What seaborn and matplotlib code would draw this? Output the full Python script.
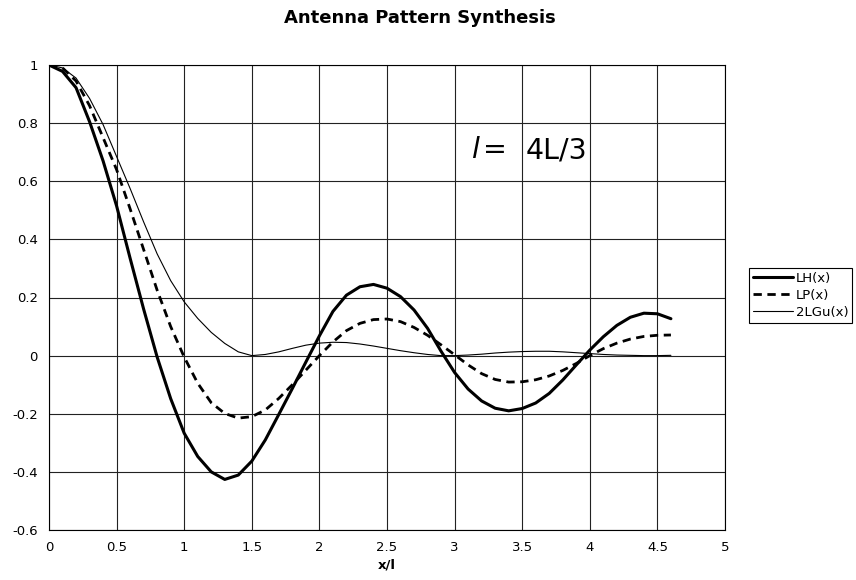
import matplotlib
matplotlib.use("Agg")
import matplotlib.pyplot as plt
import seaborn as sns
import numpy as np

# values, step 0.1 from 0 to 4.6
x = [0.0, 0.1, 0.2, 0.3, 0.4, 0.5, 0.6, 0.7, 0.8, 0.9,
     1.0, 1.1, 1.2, 1.3, 1.4, 1.5, 1.6, 1.7, 1.8, 1.9,
     2.0, 2.1, 2.2, 2.3, 2.4, 2.5, 2.6, 2.7, 2.8, 2.9,
     3.0, 3.1, 3.2, 3.3, 3.4, 3.5, 3.6, 3.7, 3.8, 3.9,
     4.0, 4.1, 4.2, 4.3, 4.4, 4.5, 4.6]

lh = [1.0, 0.978, 0.922, 0.805, 0.67, 0.515, 0.335, 0.16, -0.005, -0.148,
      -0.267, -0.347, -0.40, -0.426, -0.411, -0.363, -0.29, -0.202, -0.113, -0.022,
      0.068, 0.152, 0.208, 0.237, 0.245, 0.232, 0.203, 0.157, 0.094, 0.015,
      -0.058, -0.115, -0.156, -0.181, -0.19, -0.182, -0.163, -0.13, -0.084, -0.032,
      0.019, 0.065, 0.104, 0.132, 0.146, 0.144, 0.127]

lp = [1.0, 0.99, 0.945, 0.86, 0.75, 0.64, 0.505, 0.365, 0.225, 0.10,
      -0.005, -0.095, -0.162, -0.199, -0.215, -0.21, -0.187, -0.147, -0.10, -0.05,
      0.0, 0.047, 0.086, 0.111, 0.124, 0.126, 0.117, 0.097, 0.07, 0.037,
      0.003, -0.032, -0.062, -0.082, -0.091, -0.09, -0.083, -0.07, -0.051, -0.027,
      0.0, 0.024, 0.043, 0.057, 0.066, 0.07, 0.071]

lgu = [1.0, 0.99, 0.955, 0.885, 0.795, 0.685, 0.575, 0.46, 0.35, 0.258,
       0.185, 0.128, 0.08, 0.042, 0.013, 0.0, 0.004, 0.013, 0.025, 0.036,
       0.043, 0.046, 0.045, 0.04, 0.033, 0.025, 0.017, 0.01, 0.004, 0.0,
       0.0, 0.002, 0.005, 0.009, 0.012, 0.014, 0.015, 0.015, 0.013, 0.01,
       0.007, 0.004, 0.002, 0.001, 0.0, 0.0, 0.001]

xticks = [0, 0.5, 1, 1.5, 2, 2.5, 3, 3.5, 4, 4.5, 5]
xtick_labels = ["0", "0.5", "1", "1.5", "2", "2.5", "3", "3.5", "4", "4.5", "5"]
yticks = [-0.6, -0.4, -0.2, 0, 0.2, 0.4, 0.6, 0.8, 1]
ytick_labels = ["-0.6", "-0.4", "-0.2", "0", "0.2", "0.4", "0.6", "0.8", "1"]

sns.set_theme(style="white")
plt.rcParams["font.family"] = ["DejaVu Sans"]
plt.rcParams["text.color"] = "black"

fig = plt.figure(figsize=(8.56, 5.8), dpi=100)
ax = fig.add_axes([49 / 856, 1 - 530 / 580, 676 / 856, 465 / 580])

sns.lineplot(x=x, y=lh, ax=ax, color="black", linewidth=2.2, label="LH(x)")
sns.lineplot(x=x, y=lp, ax=ax, color="black", linewidth=2.0,
             linestyle=(0, (3, 2)), label="LP(x)")
sns.lineplot(x=x, y=lgu, ax=ax, color="black", linewidth=0.8, label="2LGu(x)")

ax.set_xlim(0, 5)
ax.set_ylim(-0.6, 1)
ax.set_xticks(xticks)
ax.set_xticklabels(xtick_labels)
ax.set_yticks(yticks)
ax.set_yticklabels(ytick_labels)
ax.tick_params(axis="both", direction="out", length=4, width=0.8,
               color="black", labelsize=9.5, labelcolor="black", pad=4)
ax.grid(True, color="#222222", linewidth=0.8)
for sp in ax.spines.values():
    sp.set_color("black")
    sp.set_linewidth(0.8)

ax.set_xlabel("x/l", fontsize=9.5, fontweight="bold", labelpad=3, color="black")
fig.text(0.49, 1 - 18 / 580, "Antenna Pattern Synthesis", ha="center",
         va="center", fontsize=13, fontweight="bold", color="black")

# annotation "l=  4L/3"
ax.text(3.13, 0.707, "l", fontsize=20.5, fontstyle="italic", va="center")
ax.text(3.21, 0.707, "=", fontsize=20.5, va="center")
ax.text(3.525, 0.707, "4L/3", fontsize=20.5, va="center")

leg = ax.legend(loc="upper left", bbox_to_anchor=(749 / 856, 1 - 268 / 580),
                bbox_transform=fig.transFigure, borderaxespad=0,
                fancybox=False, edgecolor="black", framealpha=1,
                fontsize=9.5, handlelength=3.0, handletextpad=0.25,
                labelspacing=0.3, borderpad=0.3)
leg.get_frame().set_linewidth(0.8)

fig.savefig("out.png", dpi=100)
